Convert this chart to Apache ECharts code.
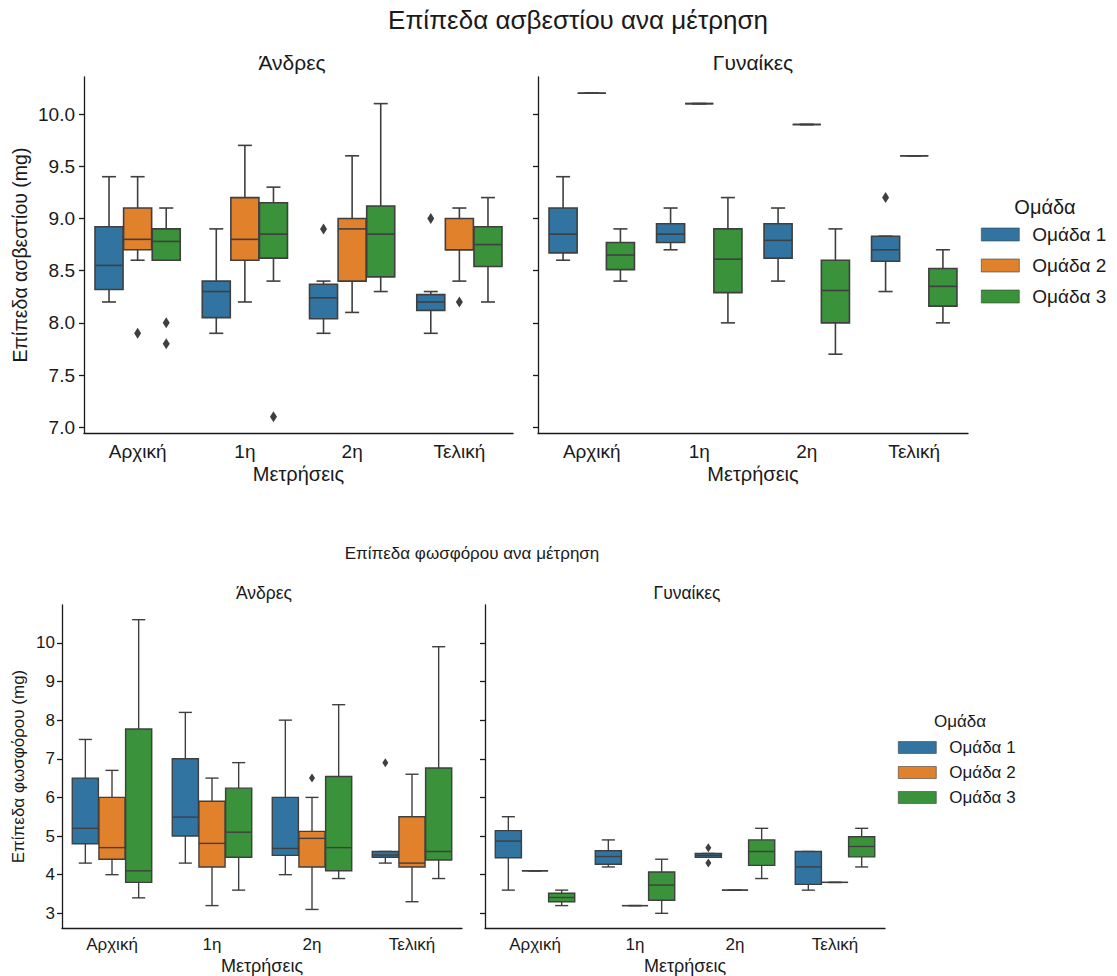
<!DOCTYPE html>
<html>
<head>
<meta charset="utf-8">
<script src="https://cdn.jsdelivr.net/npm/echarts@6/dist/echarts.min.js"></script>
<style>
  html, body { margin: 0; background: #fff; }
  #chart { width: 1117px; height: 976px; }
</style>
</head>
<body>
<div id="chart"></div>
<script>
const categories = ["Αρχική", "1η", "2η", "Τελική"];
const groups = ["Ομάδα 1", "Ομάδα 2", "Ομάδα 3"];
const groupColors = ["#3274a1", "#e1812c", "#3a923a"];

const caTicks = [7.0, 7.5, 8.0, 8.5, 9.0, 9.5, 10.0];
const pTicks = [3, 4, 5, 6, 7, 8, 9, 10];

// calcium, [min, q1, median, q3, max] per measurement
const caMen1 = [[8.2, 8.32, 8.55, 8.92, 9.4], [7.9, 8.05, 8.3, 8.4, 8.9], [7.9, 8.04, 8.24, 8.37, 8.4], [7.9, 8.12, 8.2, 8.27, 8.3]];
const caMen2 = [[8.6, 8.7, 8.8, 9.1, 9.4], [8.2, 8.6, 8.8, 9.2, 9.7], [8.1, 8.4, 8.9, 9.0, 9.6], [8.4, 8.7, 8.7, 9.0, 9.1]];
const caMen3 = [[8.6, 8.6, 8.78, 8.9, 9.1], [8.4, 8.62, 8.85, 9.15, 9.3], [8.3, 8.44, 8.85, 9.12, 10.1], [8.2, 8.54, 8.75, 8.92, 9.2]];
const caMenOut1 = [[2, 8.9], [3, 9.0]];
const caMenOut2 = [[0, 7.9], [3, 8.2]];
const caMenOut3 = [[0, 8.0], [0, 7.8], [1, 7.1]];

const caWomen1 = [[8.6, 8.67, 8.85, 9.1, 9.4], [8.7, 8.77, 8.85, 8.95, 9.1], [8.4, 8.62, 8.79, 8.95, 9.1], [8.3, 8.59, 8.7, 8.83, 8.83]];
const caWomen2 = [[10.2, 10.2, 10.2, 10.2, 10.2], [10.1, 10.1, 10.1, 10.1, 10.1], [9.9, 9.9, 9.9, 9.9, 9.9], [9.6, 9.6, 9.6, 9.6, 9.6]];
const caWomen3 = [[8.4, 8.51, 8.65, 8.77, 8.9], [8.0, 8.29, 8.61, 8.9, 9.2], [7.7, 8.0, 8.31, 8.6, 8.9], [8.0, 8.16, 8.35, 8.52, 8.7]];
const caWomenOut1 = [[3, 9.2]];
const caWomenOut2 = [];
const caWomenOut3 = [];

// phosphorus
const pMen1 = [[4.3, 4.8, 5.2, 6.5, 7.5], [4.3, 5.0, 5.49, 7.0, 8.2], [4.0, 4.5, 4.68, 6.0, 8.0], [4.3, 4.45, 4.51, 4.6, 4.6]];
const pMen2 = [[4.0, 4.4, 4.7, 6.0, 6.7], [3.2, 4.2, 4.81, 5.9, 6.5], [3.1, 4.2, 4.94, 5.12, 6.0], [3.3, 4.2, 4.3, 5.5, 6.6]];
const pMen3 = [[3.4, 3.8, 4.1, 7.77, 10.6], [3.6, 4.45, 5.1, 6.24, 6.9], [3.9, 4.1, 4.7, 6.54, 8.4], [3.9, 4.38, 4.6, 6.76, 9.9]];
const pMenOut1 = [[3, 6.9]];
const pMenOut2 = [[2, 6.5]];
const pMenOut3 = [];

const pWomen1 = [[3.6, 4.44, 4.87, 5.14, 5.5], [4.2, 4.27, 4.47, 4.62, 4.9], [4.45, 4.45, 4.5, 4.55, 4.55], [3.6, 3.75, 4.2, 4.6, 4.6]];
const pWomen2 = [[4.1, 4.1, 4.1, 4.1, 4.1], [3.2, 3.2, 3.2, 3.2, 3.2], [3.6, 3.6, 3.6, 3.6, 3.6], [3.8, 3.8, 3.8, 3.8, 3.8]];
const pWomen3 = [[3.2, 3.3, 3.41, 3.52, 3.6], [3.0, 3.34, 3.73, 4.07, 4.4], [3.9, 4.24, 4.6, 4.9, 5.2], [4.2, 4.46, 4.73, 4.98, 5.2]];
const pWomenOut1 = [[2, 4.7], [2, 4.3]];
const pWomenOut2 = [];
const pWomenOut3 = [];

const FONT = "'Liberation Sans', Arial, sans-serif";
const INK = "#1a1a1a";
const EDGE = "#3f3f3f";

const panels = [
  { boxes: [caMen1, caMen2, caMen3], fliers: [caMenOut1, caMenOut2, caMenOut3], lw: 1.6, flier: [7, 11] },
  { boxes: [caWomen1, caWomen2, caWomen3], fliers: [caWomenOut1, caWomenOut2, caWomenOut3], lw: 1.6, flier: [7, 11] },
  { boxes: [pMen1, pMen2, pMen3], fliers: [pMenOut1, pMenOut2, pMenOut3], lw: 1.4, flier: [6, 9] },
  { boxes: [pWomen1, pWomen2, pWomen3], fliers: [pWomenOut1, pWomenOut2, pWomenOut3], lw: 1.4, flier: [6, 9] },
];

// seaborn-like grouped boxes: each hue gets 0.8/3 of the band
function boxItem(hue, lw) {
  return function (params, api) {
    const cat = api.value(0);
    const slot = api.size([1, 0])[0] * 0.8 / 3;
    const cx = api.coord([cat, 0])[0] + (hue - 1) * slot;
    const half = slot * 0.98 / 2;
    const y = [1, 2, 3, 4, 5].map((i) => api.coord([cat, api.value(i)])[1]);
    const line = { stroke: EDGE, lineWidth: lw };
    return {
      type: "group",
      children: [
        { type: "line", shape: { x1: cx, y1: y[0], x2: cx, y2: y[1] }, style: line },
        { type: "line", shape: { x1: cx, y1: y[3], x2: cx, y2: y[4] }, style: line },
        { type: "line", shape: { x1: cx - half / 2, y1: y[0], x2: cx + half / 2, y2: y[0] }, style: line },
        { type: "line", shape: { x1: cx - half / 2, y1: y[4], x2: cx + half / 2, y2: y[4] }, style: line },
        {
          type: "rect",
          shape: { x: cx - half, y: y[3], width: half * 2, height: y[1] - y[3] },
          style: { fill: groupColors[hue], stroke: EDGE, lineWidth: lw },
        },
        { type: "line", shape: { x1: cx - half, y1: y[2], x2: cx + half, y2: y[2] }, style: line },
      ],
    };
  };
}

function flierItem(hue, size) {
  return function (params, api) {
    const cat = api.value(0);
    const slot = api.size([1, 0])[0] * 0.8 / 3;
    const p = api.coord([cat, api.value(1)]);
    const cx = p[0] + (hue - 1) * slot;
    const w = size[0] / 2, h = size[1] / 2;
    return {
      type: "polygon",
      shape: { points: [[cx, p[1] - h], [cx + w, p[1]], [cx, p[1] + h], [cx - w, p[1]]] },
      style: { fill: EDGE },
    };
  };
}

const series = [];
panels.forEach((panel, p) => {
  groups.forEach((name, h) => {
    series.push({
      type: "custom",
      name: name,
      xAxisIndex: p,
      yAxisIndex: p,
      itemStyle: { color: groupColors[h] },
      encode: { x: 0, y: [1, 2, 3, 4, 5] },
      renderItem: boxItem(h, panel.lw),
      data: panel.boxes[h].map((d, i) => [i].concat(d)),
    });
    series.push({
      type: "custom",
      name: name,
      xAxisIndex: p,
      yAxisIndex: p,
      itemStyle: { color: groupColors[h] },
      encode: { x: 0, y: 1 },
      renderItem: flierItem(h, panel.flier),
      data: panel.fliers[h],
    });
  });
});

const grids = [
  { left: 84, top: 77, width: 429, height: 356 },
  { left: 538, top: 77, width: 430, height: 356 },
  { left: 62, top: 605, width: 400, height: 323 },
  { left: 485, top: 605, width: 400, height: 323 },
];

function xAxisFor(i, fontSize, nameSize, margin, nameGap) {
  return {
    type: "category",
    gridIndex: i,
    data: categories,
    name: "Μετρήσεις",
    nameLocation: "middle",
    nameGap: nameGap,
    nameTextStyle: { color: INK, fontSize: nameSize, fontFamily: FONT },
    axisLine: { lineStyle: { color: INK, width: 1.3 } },
    axisTick: { alignWithLabel: true, length: 5, lineStyle: { color: INK, width: 1.3 } },
    axisLabel: { color: INK, fontSize: fontSize, fontFamily: FONT, margin: margin },
    splitLine: { show: false },
  };
}

function yAxisFor(i, opts) {
  return {
    type: "value",
    gridIndex: i,
    min: opts.min,
    max: opts.max,
    name: opts.name || "",
    nameLocation: "middle",
    nameGap: opts.nameGap,
    nameRotate: 90,
    nameTextStyle: { color: INK, fontSize: opts.nameSize, fontFamily: FONT },
    axisLine: { show: true, lineStyle: { color: INK, width: 1.3 } },
    axisTick: { show: true, length: 5, customValues: opts.ticks, lineStyle: { color: INK, width: 1.3 } },
    axisLabel: {
      show: !!opts.name,
      customValues: opts.ticks,
      color: INK,
      fontSize: opts.fontSize,
      fontFamily: FONT,
      margin: opts.margin,
      formatter: opts.fmt,
    },
    splitLine: { show: false },
  };
}

const caFmt = (v) => v.toFixed(1);
const pFmt = (v) => String(Math.round(v));

function label(text, x, y, size) {
  return {
    type: "text",
    x: x,
    y: y,
    style: {
      text: text,
      fill: INK,
      fontSize: size,
      fontFamily: FONT,
      align: "center",
      verticalAlign: "middle",
      textAlign: "center",
      textVerticalAlign: "middle",
    },
  };
}

function legendFor(left, top, fontSize, itemHeight, itemGap) {
  return {
    orient: "vertical",
    left: left,
    top: top,
    icon: "rect",
    itemWidth: 38,
    itemHeight: itemHeight,
    itemGap: itemGap,
    selectedMode: false,
    textStyle: { color: INK, fontSize: fontSize, fontFamily: FONT, padding: [0, 0, 0, 8] },
    data: groups.map((g, h) => ({
      name: g,
      itemStyle: { color: groupColors[h], borderColor: EDGE, borderWidth: 0.6 },
    })),
  };
}

const chart = echarts.init(document.getElementById("chart"), null, { renderer: "svg" });

chart.setOption({
  animation: false,
  backgroundColor: "#fff",
  grid: grids,
  xAxis: [
    xAxisFor(0, 19, 20, 9, 31),
    xAxisFor(1, 19, 20, 9, 31),
    xAxisFor(2, 17, 18, 8, 29),
    xAxisFor(3, 17, 18, 8, 29),
  ],
  yAxis: [
    yAxisFor(0, { min: 6.945, max: 10.355, ticks: caTicks, name: "Επίπεδα ασβεστίου (mg)", nameGap: 54, fontSize: 19, nameSize: 19.5, margin: 9, fmt: caFmt }),
    yAxisFor(1, { min: 6.945, max: 10.355, ticks: caTicks, fontSize: 19 }),
    yAxisFor(2, { min: 2.62, max: 10.98, ticks: pTicks, name: "Επίπεδα φωσφόρου (mg)", nameGap: 35, fontSize: 17, nameSize: 17, margin: 7, fmt: pFmt }),
    yAxisFor(3, { min: 2.62, max: 10.98, ticks: pTicks, fontSize: 17 }),
  ],
  legend: [
    legendFor(976, 220, 19, 13, 12),
    legendFor(893, 734, 17, 12, 8),
  ],
  graphic: [
    label("Επίπεδα ασβεστίου ανα μέτρηση", 578, 20, 26),
    label("Άνδρες", 292, 62, 21),
    label("Γυναίκες", 753, 62, 21),
    label("Ομάδα", 1045, 207, 20),
    label("Επίπεδα φωσφόρου ανα μέτρηση", 472, 553, 17),
    label("Άνδρες", 264, 593, 17.5),
    label("Γυναίκες", 687, 593, 17.5),
    label("Ομάδα", 960, 721, 17),
  ],
  series: series,
});
</script>
</body>
</html>
